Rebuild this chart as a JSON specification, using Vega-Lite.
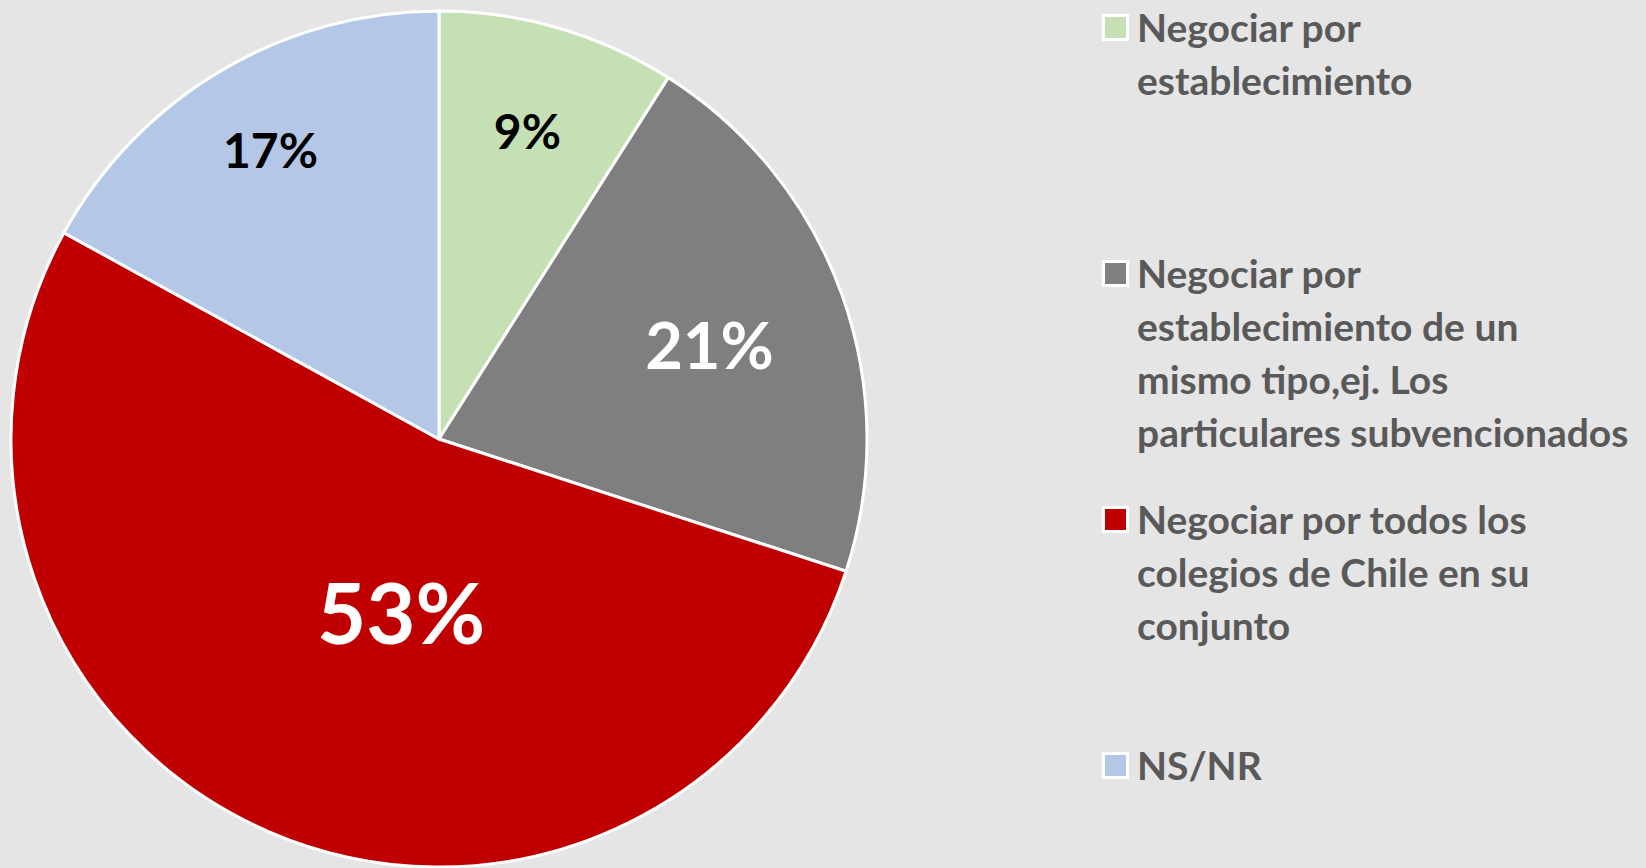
{
  "$schema": "https://vega.github.io/schema/vega-lite/v6.json",
  "width": 878,
  "height": 856,
  "autosize": {"type": "none"},
  "padding": {"left": 0, "top": 11, "right": 768, "bottom": 1},
  "background": "#e5e5e5",
  "config": {
    "view": {"stroke": null},
    "style": {"guide-label": {"lineHeight": 53}}
  },
  "data": {
    "values": [
      {"categoria": "Negociar por establecimiento", "valor": 0.09, "orden": 1},
      {"categoria": "Negociar por establecimiento de un mismo tipo,ej. Los particulares subvencionados", "valor": 0.21, "orden": 2},
      {"categoria": "Negociar por todos los colegios de Chile en su conjunto", "valor": 0.53, "orden": 3},
      {"categoria": "NS/NR", "valor": 0.17, "orden": 4}
    ]
  },
  "encoding": {
    "theta": {"field": "valor", "type": "quantitative", "stack": true},
    "order": {"field": "orden", "type": "quantitative"}
  },
  "layer": [
    {
      "mark": {"type": "arc", "outerRadius": 428, "stroke": "white", "strokeWidth": 3},
      "encoding": {
        "color": {
          "field": "categoria",
          "type": "nominal",
          "scale": {
            "domain": [
              "Negociar por establecimiento",
              "Negociar por establecimiento de un mismo tipo,ej. Los particulares subvencionados",
              "Negociar por todos los colegios de Chile en su conjunto",
              "NS/NR"
            ],
            "range": ["#c5e0b4", "#7f7f7f", "#c00000", "#b4c7e7"]
          },
          "legend": {
            "title": null,
            "orient": "right",
            "offset": 207,
            "padding": 11,
            "labelFont": "Lato",
            "labelFontSize": 39,
            "labelFontWeight": "bold",
            "labelColor": "#595959",
            "labelBaseline": "alphabetic",
            "labelLimit": 0,
            "labelOffset": 2,
            "symbolType": "M-1,-2.17H1V-0.17H-1Z",
            "symbolSize": 576,
            "symbolStrokeColor": "white",
            "symbolStrokeWidth": 3,
            "symbolOpacity": 1,
            "gridAlign": "all",
            "rowPadding": 46,
            "labelExpr": "datum.label == 'Negociar por establecimiento' ? ['Negociar por', 'establecimiento'] : datum.label == 'NS/NR' ? 'NS/NR' : indexof(datum.label, 'todos') >= 0 ? ['Negociar por todos los', 'colegios de Chile en su', 'conjunto'] : ['Negociar por', 'establecimiento de un', 'mismo tipo,ej. Los', 'particulares subvencionados']"
          }
        }
      }
    },
    {
      "mark": {"type": "text", "radius": 317, "font": "Lato", "fontWeight": "bold", "fontSize": 48, "color": "black", "baseline": "middle"},
      "encoding": {
        "text": {"condition": {"test": "datum.orden == 1", "field": "valor", "type": "quantitative", "format": ".0%"}, "value": ""}
      }
    },
    {
      "mark": {"type": "text", "radius": 331, "font": "Lato", "fontWeight": "bold", "fontSize": 48, "color": "black", "baseline": "middle"},
      "encoding": {
        "text": {"condition": {"test": "datum.orden == 4", "field": "valor", "type": "quantitative", "format": ".0%"}, "value": ""}
      }
    },
    {
      "mark": {"type": "text", "radius": 285, "thetaOffset": 0.025, "font": "Lato", "fontWeight": "bold", "fontSize": 65, "color": "white", "baseline": "middle"},
      "encoding": {
        "text": {"condition": {"test": "datum.orden == 2", "field": "valor", "type": "quantitative", "format": ".0%"}, "value": ""}
      }
    },
    {
      "mark": {"type": "text", "radius": 183, "thetaOffset": -0.2, "font": "Lato", "fontWeight": "bold", "fontSize": 85, "color": "white", "baseline": "middle"},
      "encoding": {
        "text": {"condition": {"test": "datum.orden == 3", "field": "valor", "type": "quantitative", "format": ".0%"}, "value": ""}
      }
    }
  ]
}
